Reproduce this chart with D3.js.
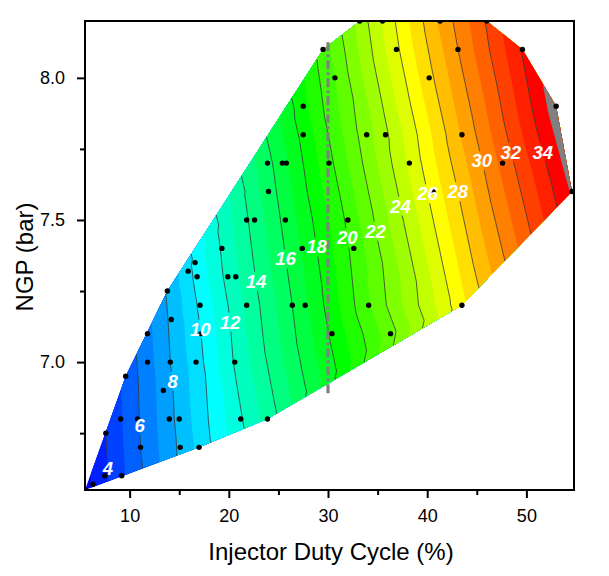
<!DOCTYPE html>
<html><head><meta charset="utf-8">
<script src="https://cdn.jsdelivr.net/npm/d3@7"></script>
<style>
body{margin:0;background:#fff}
svg{display:block}
text{font-family:"Liberation Sans",Arial,sans-serif}
</style>
</head><body>
<svg id="chart" width="609" height="576"></svg>
<script>
// ---------------- data ----------------
const dutyCycle = [33.2,35.5,41.3,46.0, 29.5,36.9,43.1,49.6, 30.7,40.2, 27.5,53.0,
  27.5,33.9,35.8,43.5, 23.9,25.4,25.8,30.1,38.2,47.6, 24.0,40.6,54.6,
  21.8,22.6,25.7,32.0, 19.3,27.4,32.6, 16.6,15.9, 16.8,19.9,20.7, 13.8,
  17.1,21.8,26.4,27.7,34.1,43.5, 14.2, 11.8,17.2,30.4,36.3, 11.8,14.1,16.7,20.6,
  9.6, 13.4, 9.1,10.8,14.0,15.0,21.2,23.9, 7.6, 11.1,15.1,17.0, 7.5,9.2, 6.3, 5.5];
const ngp = [8.2,8.2,8.2,8.2, 8.1,8.1,8.1,8.1, 8.0,8.0, 7.9,7.9,
  7.8,7.8,7.8,7.8, 7.7,7.7,7.7,7.7,7.7,7.7, 7.6,7.6,7.6,
  7.5,7.5,7.5,7.5, 7.4,7.4,7.4, 7.35,7.32, 7.3,7.3,7.3, 7.25,
  7.2,7.2,7.2,7.2,7.2,7.2, 7.15, 7.1,7.1,7.1,7.1, 7.0,7.0,7.0,7.0,
  6.95, 6.9, 6.8,6.8,6.8,6.8,6.8,6.8, 6.75, 6.7,6.7,6.7, 6.6,6.6, 6.57, 6.55];
const zValue = [23.4,25.1,29.2,32.1, 20.5,25.8,30.0,34.1, 21.0,27.7, 18.7,35.6,
  18.3,22.6,23.8,29.1, 15.7,16.6,16.9,19.7,25.2,31.3, 15.5,26.4,35.15,
  13.9,14.4,16.3,20.2, 12.1,17.1,20.3, 10.3,9.7, 10.3,12.3,12.8, 8.1,
  10.2,13.2,16.0,16.8,20.9,26.7, 8.2, 6.7,10.0,18.2,21.6, 6.6,8.0,9.5,12.1,
  5.3, 7.4, 4.9,5.9,7.7,8.3,11.9,13.4, 4.0, 6.0,8.2,9.3, 3.8,4.8, 3.2, 2.6];

const xDomain = [5.5, 54.8];
const yDomain = [6.55, 8.2];
const xTicks = [10, 20, 30, 40, 50];
const xMinorTicks = [15, 25, 35, 45];
const yTicks = [7.0, 7.5, 8.0];
const yMinorTicks = [6.75, 7.25, 7.75];

const bandEdges = d3.range(2, 36);          // fill levels 2..35, step 1
const lineLevels = d3.range(4, 35, 2);      // contour lines 4..34
const labelValues = [4,6,8,10,12,14,16,18,20,22,24,26,28,30,32,34];
const labelNgp = [6.627,6.778,6.933,7.116,7.141,7.285,7.363,7.405,7.437,7.461,7.549,7.592,7.599,7.708,7.739,7.739];

const colorStopZ = [2.5, 10.5, 18.5, 26.5, 34.5];
const colorStops = ["#0000ff", "#00ffff", "#00ff00", "#ffff00", "#ff0000"];
const aboveColor = "#808080";

const refLineX = 30;
const refLineNgp = [6.89, 8.125];

// ---------------- layout ----------------
const L = 85, R = 574, T = 21, B = 490;
const x = d3.scaleLinear().domain(xDomain).range([L, R]);
const y = d3.scaleLinear().domain(yDomain).range([B, T]);
const color = d3.scaleLinear().domain(colorStopZ).range(colorStops).interpolate(d3.interpolateRgb).clamp(true);

const svg = d3.select("#chart");
const defs = svg.append("defs");
defs.append("clipPath").attr("id", "plotclip").append("rect")
  .attr("x", L).attr("y", T).attr("width", R - L).attr("height", B - T);

// triangulation (linear interpolation between scattered points)
const pts = dutyCycle.map((d, i) => ({x: x(d), y: y(ngp[i]), z: zValue[i]}));
const del = d3.Delaunay.from(pts, p => p.x, p => p.y);
const tris = [];
for (let i = 0; i < del.triangles.length; i += 3) {
  const a = pts[del.triangles[i]], b = pts[del.triangles[i+1]], c = pts[del.triangles[i+2]];
  const area = Math.abs((b.x-a.x)*(c.y-a.y) - (c.x-a.x)*(b.y-a.y)) / 2;
  if (area > 0.5) tris.push([a, b, c]);
}

function clipGE(poly, lv) {
  const out = [];
  for (let i = 0; i < poly.length; i++) {
    const a = poly[i], b = poly[(i+1) % poly.length];
    const ain = a.z >= lv, bin = b.z >= lv;
    if (ain) out.push(a);
    if (ain !== bin) {
      const t = (lv - a.z) / (b.z - a.z);
      out.push({x: a.x + t*(b.x-a.x), y: a.y + t*(b.y-a.y), z: lv});
    }
  }
  return out;
}
function polyPath(p) {
  return "M" + p.map(q => q.x.toFixed(2) + "," + q.y.toFixed(2)).join("L") + "Z";
}

const plot = svg.append("g").attr("clip-path", "url(#plotclip)");

// filled bands, drawn cumulatively (region z >= edge)
bandEdges.forEach((e, k) => {
  let d = "";
  tris.forEach(tr => {
    const p = k === 0 ? tr : clipGE(tr, e);
    if (p.length >= 3) d += polyPath(p);
  });
  const fill = (k === bandEdges.length - 1) ? aboveColor : color(e + 0.5);
  plot.append("path").attr("d", d).attr("fill", fill).attr("stroke", "none");
});

// contour lines
const labelLayer = svg.append("g");
const mask = defs.append("mask").attr("id", "lblmask").attr("maskUnits", "userSpaceOnUse")
  .attr("x", 0).attr("y", 0).attr("width", 609).attr("height", 576);
mask.append("rect").attr("x", 0).attr("y", 0).attr("width", 609).attr("height", 576).attr("fill", "#fff");

const lineG = plot.append("g").attr("mask", "url(#lblmask)");
lineLevels.forEach(lv => {
  let d = "";
  tris.forEach(tr => {
    const cross = [];
    for (let i = 0; i < 3; i++) {
      const a = tr[i], b = tr[(i+1) % 3];
      if ((a.z >= lv) !== (b.z >= lv)) {
        const t = (lv - a.z) / (b.z - a.z);
        cross.push([a.x + t*(b.x-a.x), a.y + t*(b.y-a.y)]);
      }
    }
    if (cross.length === 2) d += "M" + cross[0][0].toFixed(2) + "," + cross[0][1].toFixed(2) +
      "L" + cross[1][0].toFixed(2) + "," + cross[1][1].toFixed(2);
  });
  lineG.append("path").attr("d", d).attr("fill", "none").attr("stroke", "#3a3a3a").attr("stroke-width", 0.8);
});

// interpolated value at a pixel
function zAt(px, py) {
  for (const [a, b, c] of tris) {
    const det = (b.y-c.y)*(a.x-c.x) + (c.x-b.x)*(a.y-c.y);
    const l1 = ((b.y-c.y)*(px-c.x) + (c.x-b.x)*(py-c.y)) / det;
    const l2 = ((c.y-a.y)*(px-c.x) + (a.x-c.x)*(py-c.y)) / det;
    const l3 = 1 - l1 - l2;
    if (l1 >= -1e-6 && l2 >= -1e-6 && l3 >= -1e-6) return l1*a.z + l2*b.z + l3*c.z;
  }
  return null;
}

// reference line at 30 %
plot.append("line")
  .attr("x1", x(refLineX)).attr("x2", x(refLineX))
  .attr("y1", y(refLineNgp[0])).attr("y2", y(refLineNgp[1]))
  .attr("stroke", "#808080").attr("stroke-width", 3.2)
  .attr("stroke-dasharray", "9,3,3,3");

// data points
plot.append("g").selectAll("circle").data(pts).join("circle")
  .attr("cx", d => d.x).attr("cy", d => d.y).attr("r", 2.7).attr("fill", "#000");

// contour labels
labelValues.forEach((v, i) => {
  const py = y(labelNgp[i]);
  let prev = null, px0 = null;
  for (let px = L; px <= R; px += 0.25) {
    const z = zAt(px, py);
    if (z !== null && prev !== null && prev < v && z >= v) { px0 = px - 0.125; break; }
    if (z !== null) prev = z;
  }
  if (px0 === null) return;
  const t = labelLayer.append("text")
    .attr("x", px0).attr("y", py).attr("text-anchor", "middle")
    .attr("dominant-baseline", "central")
    .attr("font-size", 18.5).attr("font-weight", "bold").attr("font-style", "italic")
    .attr("fill", "#fff").text(v);
  const bb = t.node().getBBox();
  mask.append("rect").attr("x", bb.x - 1).attr("y", bb.y + 1)
    .attr("width", bb.width + 2).attr("height", bb.height - 2).attr("fill", "#000");
});

// axes
function styleAxis(g) {
  g.select(".domain").remove();
  g.selectAll(".tick line").attr("stroke", "#000").attr("stroke-width", 2);
  g.selectAll("text").attr("font-size", 18).attr("fill", "#000")
    .attr("font-family", "'Liberation Sans',Arial,sans-serif");
}
svg.append("g").attr("transform", `translate(0,${B})`)
  .call(d3.axisBottom(x).tickValues(xMinorTicks).tickSize(5).tickFormat(""))
  .call(styleAxis);
svg.append("g").attr("transform", `translate(0,${B})`)
  .call(d3.axisBottom(x).tickValues(xTicks).tickSize(8).tickPadding(11).tickFormat(d3.format("d")))
  .call(styleAxis);
svg.append("g").attr("transform", `translate(${L},0)`)
  .call(d3.axisLeft(y).tickValues(yMinorTicks).tickSize(5).tickFormat(""))
  .call(styleAxis);
svg.append("g").attr("transform", `translate(${L},0)`)
  .call(d3.axisLeft(y).tickValues(yTicks).tickSize(8).tickPadding(12).tickFormat(d3.format(".1f")))
  .call(styleAxis);

// frame
svg.append("rect").attr("x", L).attr("y", T).attr("width", R - L).attr("height", B - T)
  .attr("fill", "none").attr("stroke", "#000").attr("stroke-width", 2);

// titles
svg.append("text").attr("x", 331).attr("y", 560).attr("text-anchor", "middle")
  .attr("font-size", 24).attr("fill", "#000").text("Injector Duty Cycle (%)");
svg.append("text").attr("transform", `translate(33,257) rotate(-90)`).attr("text-anchor", "middle")
  .attr("font-size", 24).attr("fill", "#000").text("NGP (bar)");
</script>
</body></html>
